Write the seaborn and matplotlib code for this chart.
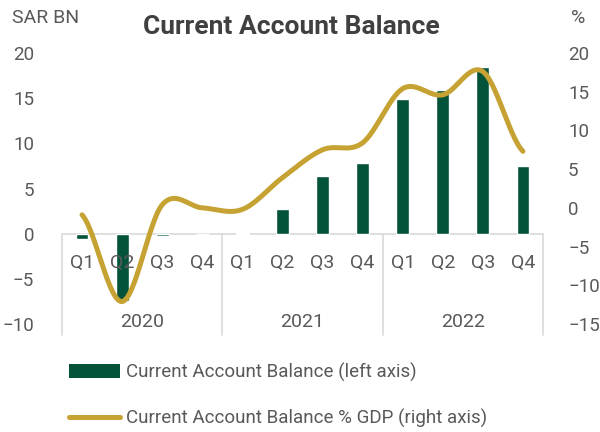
import numpy as np
import pandas as pd
import matplotlib
matplotlib.use("Agg")
import matplotlib.pyplot as plt
from matplotlib.lines import Line2D
from matplotlib.patches import Patch
import seaborn as sns

years = ["2020", "2021", "2022"]
quarters = ["Q1", "Q2", "Q3", "Q4"]
# current account balance, SAR BN (left axis)
cab_sar = [-0.6, -7.4, -0.3, 0.0, 0.05, 2.7, 6.4, 7.85, 14.9, 15.9, 18.5, 7.5]
# current account balance, % of GDP (right axis)
cab_gdp = [-0.9, -12.1, 0.4, 0.0, -0.2, 3.9, 7.5, 8.4, 15.4, 14.6, 17.6, 7.3]

green = "#02533a"
gold = "#c6a233"
grey_txt = "#595959"
grey_line = "#d9d9d9"


def catmull_rom(y, n=30):
    # smooth line through the points, like a spreadsheet "smoothed line"
    y = np.asarray(y, float)
    p = np.concatenate([[y[0]], y, [y[-1]]])
    xs, ys = [], []
    for i in range(len(y) - 1):
        p0, p1, p2, p3 = p[i], p[i + 1], p[i + 2], p[i + 3]
        t = np.linspace(0, 1, n, endpoint=False)
        v = 0.5 * (2 * p1 + (-p0 + p2) * t + (2 * p0 - 5 * p1 + 4 * p2 - p3) * t**2
                   + (-p0 + 3 * p1 - 3 * p2 + p3) * t**3)
        xs.append(i + t)
        ys.append(v)
    xs.append([len(y) - 1])
    ys.append([y[-1]])
    return np.concatenate(xs), np.concatenate(ys)


sns.set_style("white")
plt.rcParams["font.family"] = ["Roboto", "DejaVu Sans"]
fs_tick = 13.5
fs = 14

periods = [f"{y} {q}" for y in years for q in quarters]
df = pd.DataFrame({"period": periods, "sar": cab_sar, "gdp": cab_gdp})

fig = plt.figure(figsize=(6, 4.32), dpi=100)
ax = fig.add_axes([62 / 600, 1 - 324 / 432, 481 / 600, 271 / 432])

sns.barplot(data=df, x="period", y="sar", order=periods, color=green,
            width=0.32, saturation=1, ax=ax, zorder=2)
ax.set_xlim(-0.5, 11.5)
ax.set_ylim(-10, 20)
ax.set_yticks(range(-10, 21, 5))
ax.set_xticks([])
ax.set_xlabel("")
ax.set_ylabel("")
ax.tick_params(axis="y", length=0, pad=20, labelsize=fs_tick, labelcolor=grey_txt)
for s in ax.spines.values():
    s.set_visible(False)
ax.axhline(0, color=grey_line, lw=1.2, zorder=1)

# category labels, two levels
for i, p in enumerate(periods):
    ax.text(i, -3.2, p.split()[1], ha="center", va="center", fontsize=fs,
            color=grey_txt, clip_on=False)
for j, y in enumerate(years):
    ax.text(4 * j + 1.5, -9.8, y, ha="center", va="center", fontsize=fs,
            color=grey_txt, clip_on=False)
for xb in [-0.5, 3.5, 7.5, 11.5]:
    ax.plot([xb, xb], [0, -11.2], color=grey_line, lw=1.2, clip_on=False, zorder=1)

ax2 = ax.twinx()
xs, ys = catmull_rom(cab_gdp)
sns.lineplot(x=xs, y=ys, color=gold, lw=3.6, ax=ax2, solid_capstyle="round")
ax2.set_ylim(-15, 20)
ax2.set_yticks(range(-15, 21, 5))
ax2.tick_params(axis="y", length=0, pad=18, labelsize=fs_tick, labelcolor=grey_txt)
for s in ax2.spines.values():
    s.set_visible(False)

fig.text(12 / 600, 1 - 18 / 432, "SAR BN", fontsize=fs, color=grey_txt,
         ha="left", va="center")
fig.text(578 / 600, 1 - 18 / 432, "%", fontsize=fs, color=grey_txt,
         ha="center", va="center")
fig.text(291 / 600, 1 - 27 / 432, "Current Account Balance", fontsize=19,
         fontweight="bold", color="#404040", ha="center", va="center")

handles = [Patch(facecolor=green, edgecolor="none"),
           Line2D([0], [0], color=gold, lw=3.6, solid_capstyle="round")]
labels = ["Current Account Balance (left axis)",
          "Current Account Balance % GDP (right axis)"]
fig.legend(handles, labels, loc="upper left", bbox_to_anchor=(52 / 600, 1 - 346 / 432),
           frameon=False, fontsize=13.5, labelcolor=grey_txt, handlelength=2.75,
           handleheight=0.8, handletextpad=0.3, labelspacing=1.45)

fig.savefig("out.png", dpi=100)
